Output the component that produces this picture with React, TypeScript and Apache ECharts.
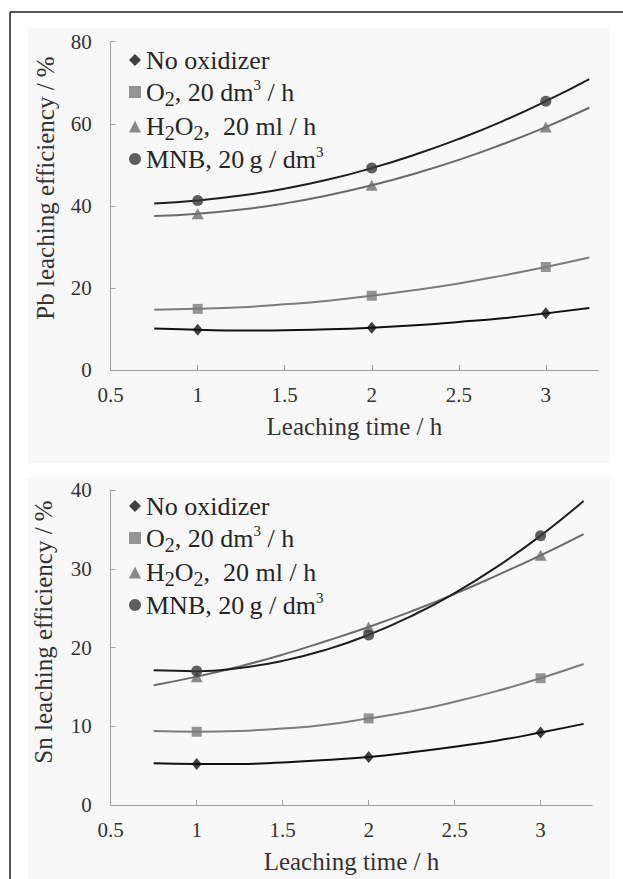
import React, { useEffect, useRef } from 'react';
import * as echarts from 'echarts';

// ---------- data ----------
const curveX = [0.75, 1, 1.25, 1.5, 1.75, 2, 2.25, 2.5, 2.75, 3, 3.25];
const pointX = [1, 2, 3];
const xTickValues = [0.5, 1, 1.5, 2, 2.5, 3];

const seriesNames = ['No oxidizer', 'O2, 20 dm3 / h', 'H2O2, 20 ml / h', 'MNB, 20 g / dm3'];

// Pb (top chart) – fitted curves
const pbNoOxCurve = [10.1, 9.8, 9.6, 9.7, 9.9, 10.3, 10.9, 11.7, 12.6, 13.8, 15.1];
const pbO2Curve = [14.7, 14.9, 15.3, 16.0, 16.9, 18.1, 19.5, 21.1, 23.0, 25.1, 27.4];
const pbH2O2Curve = [37.5, 38.1, 39.1, 40.6, 42.6, 45.0, 47.9, 51.2, 55.0, 59.2, 63.9];
const pbMnbCurve = [40.6, 41.3, 42.5, 44.2, 46.4, 49.2, 52.5, 56.3, 60.6, 65.5, 70.9];
// Pb measured points
const pbNoOxPoints = [9.8, 10.3, 13.8];
const pbO2Points = [14.9, 18.1, 25.1];
const pbH2O2Points = [38.1, 45.0, 59.2];
const pbMnbPoints = [41.3, 49.2, 65.5];

// Sn (bottom chart) – fitted curves
const snNoOxCurve = [5.3, 5.2, 5.2, 5.4, 5.7, 6.1, 6.7, 7.4, 8.2, 9.2, 10.3];
const snO2Curve = [9.4, 9.3, 9.4, 9.7, 10.2, 11.0, 11.9, 13.1, 14.5, 16.1, 17.9];
const snH2O2Curve = [15.2, 16.3, 17.6, 19.1, 20.8, 22.6, 24.6, 26.8, 29.2, 31.7, 34.4];
const snMnbCurve = [17.1, 17.0, 17.4, 18.3, 19.7, 21.6, 24.0, 26.9, 30.3, 34.2, 38.6];
// Sn measured points
const snNoOxPoints = [5.2, 6.1, 9.2];
const snO2Points = [9.3, 11.0, 16.1];
const snH2O2Points = [16.3, 22.6, 31.7];
const snMnbPoints = [17.0, 21.6, 34.2];

// ---------- styles ----------
const FONT = "'Liberation Serif', 'Times New Roman', serif";
const markerSymbols = ['diamond', 'rect', 'triangle', 'circle'];
const markerSizes: any[] = [[10, 12], 10, [12, 11], 11];
const markerColors = ['#111111', '#7a7a7a', '#6e6e6e', '#383838'];
const lineColors = ['#111111', '#7d7d7d', '#6a6a6a', '#1e1e1e'];
const legendRich: Record<string, string> = {
  'No oxidizer': '{t|No oxidizer}',
  'O2, 20 dm3 / h': '{t|O}{sub|2}{t|, 20 dm}{sup|3}{t| / h}',
  'H2O2, 20 ml / h': '{t|H}{sub|2}{t|O}{sub|2}{t|,  20 ml / h}',
  'MNB, 20 g / dm3': '{t|MNB, 20\u2009g / dm}{sup|3}',
};

export default function App() {
  const ref = useRef<HTMLDivElement>(null);

  useEffect(() => {
    if (!ref.current) return;
    const chart = echarts.init(ref.current, undefined, { renderer: 'svg' });

    const panels = [
      { curves: [pbNoOxCurve, pbO2Curve, pbH2O2Curve, pbMnbCurve], points: [pbNoOxPoints, pbO2Points, pbH2O2Points, pbMnbPoints] },
      { curves: [snNoOxCurve, snO2Curve, snH2O2Curve, snMnbCurve], points: [snNoOxPoints, snO2Points, snH2O2Points, snMnbPoints] },
    ];

    const series: any[] = [];
    panels.forEach((p, gi) => {
      seriesNames.forEach((name, i) => {
        series.push({
          name,
          type: 'scatter',
          xAxisIndex: gi,
          yAxisIndex: gi,
          data: pointX.map((x, j) => [x, p.points[i][j]]),
          symbol: markerSymbols[i],
          symbolSize: markerSizes[i],
          itemStyle: { color: markerColors[i] },
          z: 4,
          silent: true,
        });
      });
    });
    panels.forEach((p, gi) => {
      seriesNames.forEach((name, i) => {
        series.push({
          name,
          type: 'line',
          xAxisIndex: gi,
          yAxisIndex: gi,
          data: curveX.map((x, j) => [x, p.curves[i][j]]),
          smooth: true,
          symbol: 'none',
          showSymbol: false,
          lineStyle: { color: lineColors[i], width: 2 },
          itemStyle: { color: markerColors[i] },
          z: 3,
          silent: true,
        });
      });
    });

    const axisLineStyle = { lineStyle: { color: '#a0a0a0', width: 1 } };
    const tickStyle = { show: true, inside: true, length: 5, lineStyle: { color: '#a0a0a0', width: 1 } };
    const labelStyle = { fontFamily: FONT, fontSize: 21, color: '#333' };

    const makeX = (gi: number) => ({
      type: 'value',
      gridIndex: gi,
      min: 0.5,
      max: 3.3,
      interval: 0.5,
      name: 'Leaching time / h',
      nameLocation: 'middle',
      nameGap: 44,
      nameTextStyle: { fontFamily: FONT, fontSize: 25, color: '#333' },
      axisLine: axisLineStyle,
      axisTick: { ...tickStyle, customValues: xTickValues },
      axisLabel: { ...labelStyle, margin: 14, customValues: xTickValues },
      splitLine: { show: false },
    });

    const makeY = (gi: number, max: number, interval: number) => ({
      type: 'value',
      gridIndex: gi,
      min: 0,
      max,
      interval,
      axisLine: { show: true, ...axisLineStyle },
      axisTick: tickStyle,
      axisLabel: { ...labelStyle, margin: 19 },
      splitLine: { show: false },
    });

    const legendBase = {
      orient: 'vertical',
      left: 129,
      padding: 0,
      itemWidth: 12,
      itemHeight: 12,
      itemGap: 1.5,
      selectedMode: false,
      formatter: (name: string) => legendRich[name] || name,
      textStyle: {
        fontFamily: FONT,
        fontSize: 26,
        color: '#262626',
        lineHeight: 28,
        rich: {
          t: { fontFamily: FONT, fontSize: 26, color: '#262626', lineHeight: 28 },
          sub: { fontFamily: FONT, fontSize: 20, color: '#262626', lineHeight: 15, padding: [13, 0, 0, 0] },
          sup: { fontFamily: FONT, fontSize: 15, color: '#262626', lineHeight: 14, padding: [0, 0, 14, 0] },
        },
      },
      data: seriesNames.map((n, i) => ({ name: n, icon: markerSymbols[i], itemStyle: { color: markerColors[i] } })),
    };

    chart.setOption({
      animation: false,
      backgroundColor: '#ffffff',
      grid: [
        { left: 110.7, top: 41.7, width: 487.3, height: 328.3 },
        { left: 110.7, top: 490, width: 481.5, height: 315 },
      ],
      xAxis: [makeX(0), makeX(1)],
      yAxis: [makeY(0, 80, 20), makeY(1, 40, 10)],
      legend: [
        { ...legendBase, top: 46 },
        { ...legendBase, top: 492 },
      ],
      graphic: [
        { type: 'rect', z: -10, silent: true, shape: { x: 28, y: 28, width: 582, height: 435 }, style: { fill: '#f8f8f8' } },
        { type: 'rect', z: -10, silent: true, shape: { x: 28, y: 478, width: 582, height: 401 }, style: { fill: '#f8f8f8' } },
        {
          type: 'text', x: 45, y: 188, rotation: Math.PI / 2, silent: true,
          style: { text: 'Pb leaching efficiency / %', fontFamily: FONT, fontSize: 25, fill: '#333', align: 'center', verticalAlign: 'middle' },
        },
        {
          type: 'text', x: 43, y: 632, rotation: Math.PI / 2, silent: true,
          style: { text: 'Sn leaching efficiency / %', fontFamily: FONT, fontSize: 25, fill: '#333', align: 'center', verticalAlign: 'middle' },
        },
        { type: 'line', z: 100, silent: true, shape: { x1: 10, y1: 12, x2: 623, y2: 12 }, style: { stroke: '#222', lineWidth: 1.5 } },
        { type: 'line', z: 100, silent: true, shape: { x1: 10, y1: 12, x2: 10, y2: 879 }, style: { stroke: '#222', lineWidth: 1.5 } },
      ],
      series,
    });

    return () => chart.dispose();
  }, []);

  return (
    <div
      ref={ref}
      style={{ position: 'absolute', left: 0, top: 0, width: 623, height: 879 }}
    />
  );
}
